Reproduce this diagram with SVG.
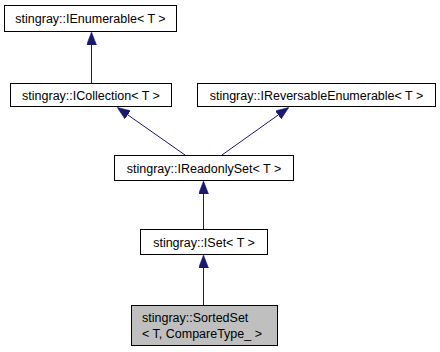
<svg xmlns="http://www.w3.org/2000/svg" width="440" height="352" viewBox="0 0 440 352">
  <style>
    .box { fill: #ffffff; stroke: #000000; stroke-width: 1; }
    .cur { fill: #bfbfbf; stroke: #000000; stroke-width: 1; }
    .lbl { font-family: "Liberation Sans", Arial, sans-serif; font-size: 12.5px; fill: #000000; }
    .edge { fill: none; stroke: #191970; stroke-width: 1; }
  </style>
  <defs>
    <!-- filled inheritance arrowhead, tip placed at the line end -->
    <marker id="arrow" viewBox="0 0 13 10" refX="12" refY="5" markerWidth="13" markerHeight="10" markerUnits="userSpaceOnUse" orient="auto">
      <path d="M0,0 L13,5 L0,10 Z" fill="#191970" stroke="#191970" stroke-width="0.5"/>
    </marker>
  </defs>
  <rect width="440" height="352" fill="#ffffff"/>

  <g id="edges">
    <line class="edge" x1="91.5" y1="83" x2="91.5" y2="33" marker-end="url(#arrow)"/>
    <line class="edge" x1="185" y1="155" x2="118" y2="108" marker-end="url(#arrow)"/>
    <line class="edge" x1="222" y1="155" x2="288" y2="108" marker-end="url(#arrow)"/>
    <line class="edge" x1="203.5" y1="229" x2="203.5" y2="182" marker-end="url(#arrow)"/>
    <line class="edge" x1="203.5" y1="305" x2="203.5" y2="256" marker-end="url(#arrow)"/>
  </g>

  <g id="node-ienumerable">
    <rect class="box" x="4.5" y="5.5" width="172" height="26"/>
    <text class="lbl" x="90.5" y="23" text-anchor="middle">stingray::IEnumerable&lt; T &gt;</text>
  </g>
  <g id="node-icollection">
    <rect class="box" x="10.5" y="83.5" width="161" height="23"/>
    <text class="lbl" x="91" y="99.5" text-anchor="middle">stingray::ICollection&lt; T &gt;</text>
  </g>
  <g id="node-ireversableenumerable">
    <rect class="box" x="197.5" y="83.5" width="238" height="23"/>
    <text class="lbl" x="316.5" y="99.5" text-anchor="middle">stingray::IReversableEnumerable&lt; T &gt;</text>
  </g>
  <g id="node-ireadonlyset">
    <rect class="box" x="114.5" y="155.5" width="179" height="25"/>
    <text class="lbl" x="204" y="172.5" text-anchor="middle">stingray::IReadonlySet&lt; T &gt;</text>
  </g>
  <g id="node-iset">
    <rect class="box" x="140.5" y="229.5" width="127" height="25"/>
    <text class="lbl" x="204" y="246.5" text-anchor="middle">stingray::ISet&lt; T &gt;</text>
  </g>
  <g id="node-sortedset">
    <rect class="cur" x="131.5" y="305.5" width="146" height="40"/>
    <text class="lbl" x="142" y="321.5">stingray::SortedSet</text>
    <text class="lbl" x="142" y="337.5">&lt; T, CompareType_ &gt;</text>
  </g>
</svg>
